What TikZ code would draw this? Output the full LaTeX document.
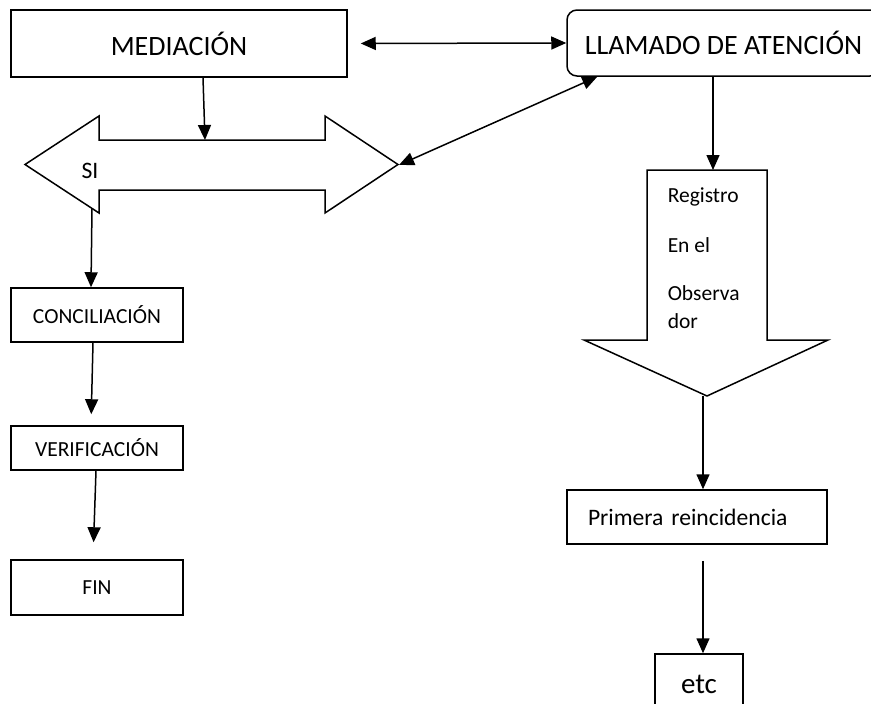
\documentclass[tikz,border=0pt]{standalone}
\usepackage{fontspec}
\setmainfont{Carlito}
\usetikzlibrary{positioning,arrows.meta}

\begin{document}
\begin{tikzpicture}[
    x=1pt, y=-1pt,
    line width=1.5pt,
    big/.style={font={\fontsize{28}{33}\selectfont}},
    mid/.style={font={\fontsize{23.6}{28}\selectfont}},
    small/.style={font={\fontsize{21.5}{28}\selectfont}},
    block/.style={draw,rectangle,inner sep=0pt,align=center},
    link/.style={-{Triangle[length=15pt,width=13pt]}},
    twoway/.style={{Triangle[length=15pt,width=13pt]}-{Triangle[length=15pt,width=13pt]}},
]
    \useasboundingbox (0,0) rectangle (871,704);
    \clip (0,0) rectangle (871,704);
    \fill[white] (0,0) rectangle (871,704);

    % Boxes
    \node[block,big,minimum width=336pt,minimum height=67pt] (med) at (179,43.5) {MEDIACIÓN};
    \node[block,big,rounded corners=10pt,minimum width=313pt,minimum height=66pt] (llam) at (723.5,43) {LLAMADO DE ATENCIÓN};

    \node[block,small,minimum width=172pt,minimum height=54pt] (con) at (97,315) {CONCILIACIÓN};
    \node[block,small,minimum width=172pt,minimum height=44pt] (ver) at (97,448) {VERIFICACIÓN};
    \node[block,small,minimum width=172pt,minimum height=55pt] (fin) at (97,587.5) {FIN};

    \node[block,mid,minimum width=260pt,minimum height=54pt,text width=218pt,align=left,inner xsep=21pt] (prim) at (697,517) {Primera reincidencia};
    \node[block,font={\fontsize{29}{34}\selectfont},minimum width=88pt,minimum height=60pt] (etc) at (699,684) {etc};

    % Block arrows
    \draw (25,164.5) -- (99,116) -- (99,140) -- (325,140) -- (325,116) -- (398,164.5)
        -- (325,213) -- (325,190) -- (99,190) -- (99,213) -- cycle;
    \coordinate (siTop) at (205,140);
    \coordinate (siTip) at (399,165);
    \coordinate (siFoot) at (92,208);
    \node[mid] (si) at (90,171) {SI};

    \draw (647,170) -- (767,170) -- (767,340) -- (828,340) -- (707,396) -- (584,340) -- (647,340) -- cycle;
    \coordinate (regTop) at (713,170);
    \coordinate (regTip) at (707,396);
    \node[small,align=left,anchor=north west,inner sep=0pt] (obs) at (667,187) {Registro\\[22pt]En el\\[20pt]Observa\\dor};

    % Relations
    \draw[twoway,shorten <=13pt] (med.east) -- (llam.west);
    \draw[link] ([xshift=24pt]med.south) -- (siTop);
    \draw[twoway] (siTip) -- ([xshift=31pt]llam.south west);

    \draw[link] (siFoot) -- ([xshift=-6pt]con.north);
    \draw[link,shorten >=11pt] ([xshift=-4pt]con.south) -- ([xshift=-6pt]ver.north);
    \draw[link,shorten >=17pt] ([xshift=-1pt]ver.south) -- ([xshift=-4pt]fin.north);

    \draw[link] (llam.south -| regTop) -- (regTop);
    \draw[link] ([xshift=-4pt]regTip) -- ([xshift=-4pt]regTip |- prim.north);
    \draw[link,shorten <=16pt] ([xshift=-4pt]prim.south -| regTip) -- ([xshift=-4pt]regTip |- etc.north);

\end{tikzpicture}
\end{document}
